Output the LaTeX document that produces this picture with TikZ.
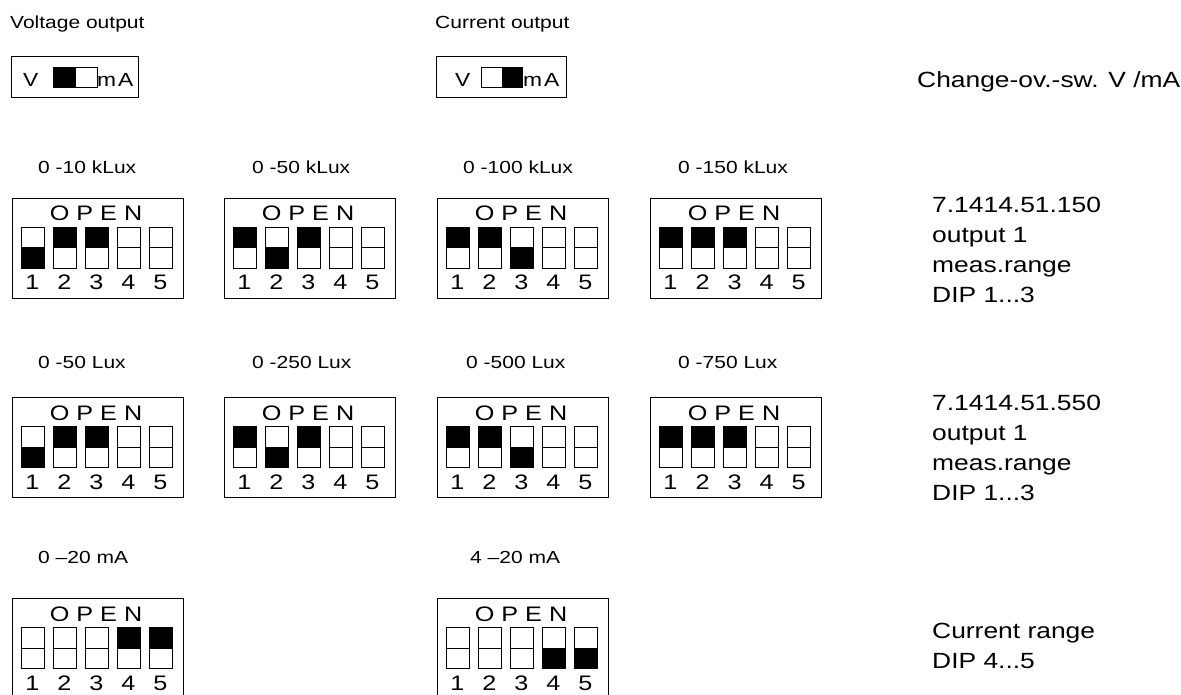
\documentclass[tikz,border=0pt]{standalone}
\usepackage{fontspec}
\setmainfont{Liberation Sans}[FakeStretch=1.2]
\usetikzlibrary{positioning}

\begin{document}
\begin{tikzpicture}[x=1pt,y=-1pt,
  lab/.style={anchor=base west,inner sep=0pt,font=\fontsize{17.5}{20}\selectfont},
  boxtxt/.style={anchor=base west,inner sep=0pt,font=\fontsize{19}{22}\selectfont},
  note/.style={anchor=base west,inner sep=0pt,align=left,font=\fontsize{22}{30}\selectfont},
  dip/.style={draw=black,line width=1.2pt,anchor=north west,inner sep=0pt,minimum width=171pt,minimum height=100pt},
  vma/.style={draw=black,line width=1.2pt,anchor=north west,inner sep=0pt,minimum height=41pt},
  slide/.style={draw=black,line width=1pt,anchor=north west,inner sep=0pt,minimum width=#1,minimum height=20pt},
  sw/.style={draw=black,line width=1pt,anchor=north,inner sep=0pt,minimum width=23pt,minimum height=41pt},
  swline/.style={black,line width=1pt},
  opentxt/.style={anchor=base,inner sep=0pt,font=\fontsize{21}{24}\selectfont},
  digit/.style={anchor=base,inner sep=0pt,font=\fontsize{21}{24}\selectfont},
]
\useasboundingbox (0,0) rectangle (1181,695);
% change-over switch V / mA
\node[lab] (vlab) at (10,29) {Voltage output};
\node[vma,minimum width=127pt] (vbox) at (11,56) {};
\node[boxtxt] (vv) at (23,87) {V};
\node[slide=44pt] (vsl) at (53,67) {};
\fill (vsl.north west) rectangle (vsl.south);
\node[boxtxt] (vma) at (97,87) {m\kern2pt A};
\node[lab] (clab) at (435,29) {Current output};
\node[vma,minimum width=130pt] (cbox) at (436,56) {};
\node[boxtxt] (cv) at (455,87) {V};
\node[slide=41pt] (csl) at (481,67) {};
\fill (csl.north) rectangle (csl.south east);
\node[boxtxt] (cma) at (523,87) {m\kern2pt A};
\node[note] (chg) at (917,88) {Change-ov.-sw. V /mA};
% range labels
\node[lab] (l11) at (38,174) {0 -10 kLux};
\node[lab] (l12) at (252,174) {0 -50 kLux};
\node[lab] (l13) at (463,174) {0 -100 kLux};
\node[lab] (l14) at (678,174) {0 -150 kLux};
\node[lab] (l21) at (38,368) {0 -50 Lux};
\node[lab] (l22) at (252,368) {0 -250 Lux};
\node[lab] (l23) at (466,368) {0 -500 Lux};
\node[lab] (l24) at (678,368) {0 -750 Lux};
\node[lab] (l31) at (38,563) {0 --20 mA};
\node[lab] (l32) at (470,563) {4 --20 mA};
% DIP switches: u = upper half black, d = lower half black, n = open
\foreach \nm/\bx/\by/\st in {a1/12/198/{d,u,u,n,n},a2/224/198/{u,d,u,n,n},a3/437/198/{u,u,d,n,n},a4/650/198/{u,u,u,n,n},
  b1/12/397/{d,u,u,n,n},b2/224/397/{u,d,u,n,n},b3/437/397/{u,u,d,n,n},b4/650/397/{u,u,u,n,n},
  c1/12/598/{n,n,n,u,u},c2/437/598/{n,n,n,d,d}}{
  \node[dip] (\nm) at (\bx,\by) {};
  \node[opentxt] (\nm-open) at (\bx+84,\by+23) {O P E N};
  \foreach \s [count=\i] in \st {
    \node[sw] (\nm-\i) at (\bx+20.5+32*\i-32,\by+29) {};
    \if u\s \fill (\nm-\i.north west) rectangle (\nm-\i.east); \fi
    \if d\s \fill (\nm-\i.west) rectangle (\nm-\i.south east); \fi
    \draw[swline] (\nm-\i.west) -- (\nm-\i.east);
    \node[digit] (\nm-d\i) at (\bx+20.5+32*\i-32,\by+92) {\i};
  }
}
% notes on the right (anchored at the last line)
\node[note] (n1) at (932,302) {7.1414.51.150\\output 1\\meas.range\\DIP 1...3};
\node[note] (n2) at (932,500) {7.1414.51.550\\output 1\\meas.range\\DIP 1...3};
\node[note] (n3) at (932,668) {Current range\\DIP 4...5};
\end{tikzpicture}
\end{document}
